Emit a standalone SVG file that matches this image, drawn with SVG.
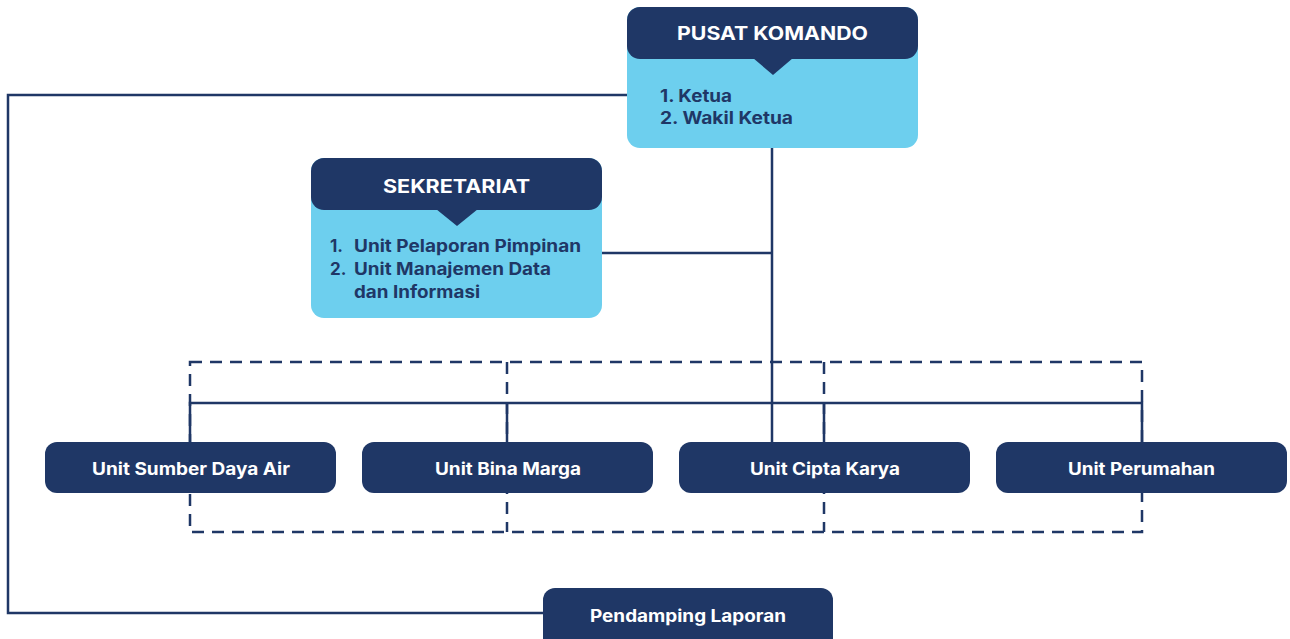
<svg xmlns="http://www.w3.org/2000/svg" width="1290" height="639" viewBox="0 0 1290 639">
  <defs>
    <style>
      .dark { fill: #1f3766; }
      .light { fill: #6dcfee; }
      .line { fill: none; stroke: #1f3766; stroke-width: 2.5; }
      .dash { fill: none; stroke: #1f3766; stroke-width: 2.5; stroke-dasharray: 12 8; }
      .title { font-family: Inter, "Open Sans", sans-serif; font-weight: 700; font-size: 18.5px; fill: #ffffff; }
      .item { font-family: Inter, "Open Sans", sans-serif; font-weight: 700; font-size: 17px; fill: #1f3766; }
      .unit { font-family: Inter, "Open Sans", sans-serif; font-weight: 700; font-size: 17px; fill: #ffffff; }
    </style>
  </defs>
  <rect width="1290" height="639" fill="#ffffff"/>

  <!-- connectors -->
  <g id="connectors">
    <rect class="dash" x="190" y="362" width="952" height="170"/>
    <line class="dash" x1="507" y1="362" x2="507" y2="532"/>
    <line class="dash" x1="824" y1="362" x2="824" y2="532"/>
    <path class="line" d="M627 95 H8 V613 H543"/>
    <path class="line" d="M772 148 V442"/>
    <path class="line" d="M602 253 H772"/>
    <path class="line" d="M190 442 V403 H1142 V442"/>
    <path class="line" d="M507 403 V442"/>
    <path class="line" d="M824 403 V442"/>
  </g>

  <!-- command centre -->
  <g id="pusat-komando">
    <rect class="light" x="627" y="7" width="291" height="141" rx="13"/>
    <rect class="dark" x="627" y="7" width="291" height="52" rx="13"/>
    <polygon class="dark" points="753,58 793,58 773,75"/>
    <text class="title" x="677" y="40" textLength="191" lengthAdjust="spacingAndGlyphs">PUSAT KOMANDO</text>
    <text class="item" x="660" y="102" textLength="72" lengthAdjust="spacingAndGlyphs">1. Ketua</text>
    <text class="item" x="660" y="124" textLength="133" lengthAdjust="spacingAndGlyphs">2. Wakil Ketua</text>
  </g>

  <!-- secretariat -->
  <g id="sekretariat">
    <rect class="light" x="311" y="158" width="291" height="160" rx="13"/>
    <rect class="dark" x="311" y="158" width="291" height="52" rx="13"/>
    <polygon class="dark" points="436,209 478,209 457,226"/>
    <text class="title" x="383" y="193" textLength="147" lengthAdjust="spacingAndGlyphs">SEKRETARIAT</text>
    <text class="item" x="330" y="252">1.</text>
    <text class="item" x="354" y="252" textLength="227" lengthAdjust="spacingAndGlyphs">Unit Pelaporan Pimpinan</text>
    <text class="item" x="330" y="275">2.</text>
    <text class="item" x="354" y="275" textLength="197" lengthAdjust="spacingAndGlyphs">Unit Manajemen Data</text>
    <text class="item" x="354" y="298" textLength="126" lengthAdjust="spacingAndGlyphs">dan Informasi</text>
  </g>

  <g id="unit-sda">
    <rect class="dark" x="45" y="442" width="291" height="51" rx="12"/>
    <text class="unit" x="92" y="475" textLength="198" lengthAdjust="spacingAndGlyphs">Unit Sumber Daya Air</text>
  </g>
  <g id="unit-bina-marga">
    <rect class="dark" x="362" y="442" width="291" height="51" rx="12"/>
    <text class="unit" x="435" y="475" textLength="146" lengthAdjust="spacingAndGlyphs">Unit Bina Marga</text>
  </g>
  <g id="unit-cipta-karya">
    <rect class="dark" x="679" y="442" width="291" height="51" rx="12"/>
    <text class="unit" x="750" y="475" textLength="150" lengthAdjust="spacingAndGlyphs">Unit Cipta Karya</text>
  </g>
  <g id="unit-perumahan">
    <rect class="dark" x="996" y="442" width="291" height="51" rx="12"/>
    <text class="unit" x="1068" y="475" textLength="147" lengthAdjust="spacingAndGlyphs">Unit Perumahan</text>
  </g>
  <g id="pendamping-laporan">
    <rect class="dark" x="543" y="588" width="290" height="64" rx="12"/>
    <text class="unit" x="590" y="622" textLength="196" lengthAdjust="spacingAndGlyphs">Pendamping Laporan</text>
  </g>
</svg>
